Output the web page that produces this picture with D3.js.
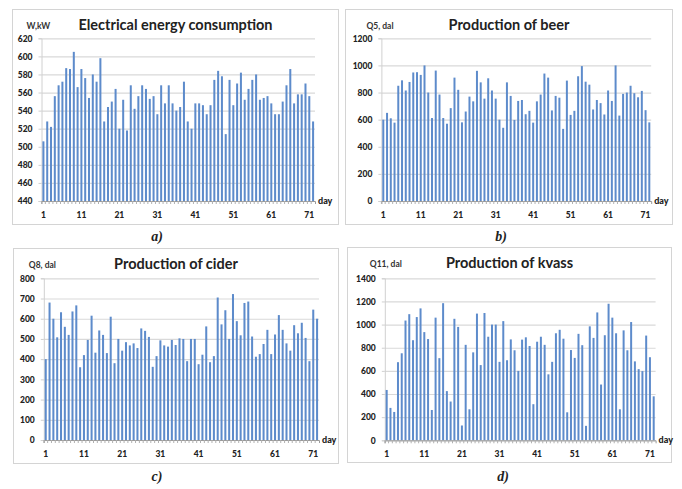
<!DOCTYPE html>
<html>
<head>
<meta charset="utf-8">
<script src="https://d3js.org/d3.v7.min.js"></script>
<style>
  body { margin: 0; background: #fff; }
  text { font-family: Lato, "Open Sans", sans-serif; fill: #222; }
  .tick-lbl { font-size: 8.5px; font-weight: 900; }
  .title { font-size: 14.5px; font-weight: bold; }
  .ytitle { font-size: 8.5px; font-weight: bold; fill: #333; }
  .caption { font-family: "Liberation Serif", "DejaVu Serif", serif; font-style: italic; font-weight: bold; font-size: 14px; }
</style>
</head>
<body>
<svg width="682" height="489"></svg>
<script>
// days 1..72
const days = d3.range(1, 73);
const xTickDays = [1, 11, 21, 31, 41, 51, 61, 71];

// W, kW
const energy = [506, 528, 522, 556, 568, 572, 587, 586, 605, 566,
  586, 576, 554, 580, 572, 598, 528, 544, 550, 564,
  520, 552, 518, 568, 542, 556, 568, 564, 553, 556,
  536, 568, 548, 568, 548, 540, 544, 572, 528, 520,
  548, 548, 546, 536, 546, 574, 584, 578, 514, 574,
  546, 570, 582, 552, 564, 574, 580, 552, 554, 556,
  548, 536, 536, 550, 568, 586, 548, 558, 558, 570,
  556, 528];

// Q5, dal
const beer = [600, 650, 610, 578, 850, 890, 815, 878, 948, 950,
  930, 1000, 800, 612, 962, 785, 612, 570, 685, 910,
  820, 580, 660, 770, 735, 960, 875, 755, 905, 815,
  755, 600, 540, 875, 775, 598, 738, 745, 640, 665,
  578, 735, 785, 940, 910, 668, 775, 762, 532, 888,
  635, 665, 920, 995, 880, 858, 675, 745, 722, 638,
  815, 738, 1000, 630, 790, 800, 850, 795, 765, 812,
  670, 580];

// Q8, dal
const cider = [400, 680, 600, 508, 632, 560, 520, 636, 666, 360,
  420, 495, 615, 432, 542, 520, 430, 610, 380, 500,
  442, 484, 468, 478, 455, 552, 540, 510, 362, 415,
  493, 468, 462, 495, 470, 503, 500, 390, 500, 500,
  375, 422, 562, 385, 415, 705, 572, 642, 500, 722,
  588, 518, 678, 685, 512, 412, 425, 475, 545, 425,
  522, 618, 545, 478, 442, 568, 528, 580, 505, 390,
  645, 600];

// Q11, dal
const kvass = [435, 280, 245, 675, 752, 1035, 1090, 865, 1065, 1140,
  935, 875, 262, 1060, 710, 1185, 425, 335, 1050, 980,
  128, 825, 268, 760, 1095, 650, 1100, 895, 1000, 1000,
  678, 1030, 692, 872, 778, 600, 870, 890, 815, 312,
  852, 895, 825, 570, 678, 925, 955, 878, 242, 780,
  712, 920, 822, 125, 985, 885, 1105, 482, 908, 1180,
  1060, 925, 268, 950, 778, 1022, 682, 615, 598, 905,
  718, 380];

const energyTicks = [440, 460, 480, 500, 520, 540, 560, 580, 600, 620];
const beerTicks = [0, 200, 400, 600, 800, 1000, 1200];
const ciderTicks = [0, 100, 200, 300, 400, 500, 600, 700, 800];
const kvassTicks = [0, 200, 400, 600, 800, 1000, 1200, 1400];

const panels = [
  { values: energy, ticks: energyTicks, title: "Electrical energy consumption", ytitle: "W,kW", caption: "a)",
    box: [12.5, 9.5, 326, 215], plot: [41.5, 315, 38.3, 201], capPos: [157, 241] },
  { values: beer, ticks: beerTicks, title: "Production of beer", ytitle: "Q5, dal", caption: "b)",
    box: [345.5, 9.5, 327, 215], plot: [381.4, 651.2, 38.3, 201], capPos: [501, 241] },
  { values: cider, ticks: ciderTicks, title: "Production of cider", ytitle: "Q8, dal", caption: "c)",
    box: [13.5, 248.5, 325, 215], plot: [43.8, 319, 278.3, 440], capPos: [157, 481] },
  { values: kvass, ticks: kvassTicks, title: "Production of kvass", ytitle: "Q11, dal", caption: "d)",
    box: [347.5, 247.5, 324, 215], plot: [384.8, 655.6, 278.3, 440.3], capPos: [503, 481] }
];

const svg = d3.select("svg");
svg.append("rect").attr("width", 682).attr("height", 489).attr("fill", "#fff");

panels.forEach(p => {
  const [bx, by, bw, bh] = p.box;
  const [x0, x1, yTop, yBot] = p.plot;
  const g = svg.append("g");

  g.append("rect")
    .attr("x", bx).attr("y", by).attr("width", bw).attr("height", bh)
    .attr("fill", "#fff").attr("stroke", "#d4d4d4");

  const x = d3.scaleBand().domain(days).range([x0, x1]).paddingInner(0.47).paddingOuter(0.24);
  const y = d3.scaleLinear().domain(d3.extent(p.ticks)).range([yBot, yTop]);

  // gridlines
  g.append("g")
    .attr("transform", `translate(${x0},0)`)
    .call(d3.axisLeft(y).tickValues(p.ticks).tickSize(-(x1 - x0)).tickFormat(""))
    .call(a => a.select(".domain").remove())
    .call(a => a.selectAll("line").attr("stroke", "#d9d9d9").attr("stroke-width", 1.2));

  // y tick labels
  g.append("g")
    .attr("transform", `translate(${x0},0)`)
    .call(d3.axisLeft(y).tickValues(p.ticks).tickSize(3).tickPadding(6).tickFormat(d3.format("d")))
    .call(a => a.select(".domain").attr("stroke", "#d0d0d0"))
    .call(a => a.selectAll("line").attr("stroke", "#d0d0d0"))
    .call(a => a.selectAll("text").attr("class", "tick-lbl").attr("fill", "#222"));

  // bars
  g.append("g")
    .selectAll("rect")
    .data(p.values)
    .join("rect")
    .attr("x", (d, i) => x(days[i]))
    .attr("width", x.bandwidth())
    .attr("y", d => y(d))
    .attr("height", d => y(y.domain()[0]) - y(d))
    .attr("fill", "#5d8bcb");

  // x axis with a small tick for every day
  const xStep = x.step();
  g.append("g")
    .attr("transform", `translate(0,${yBot})`)
    .call(d3.axisBottom(x).tickValues(days).tickSize(3).tickFormat(""))
    .call(a => a.select(".domain").attr("stroke", "#9a9a9a"))
    .call(a => a.selectAll(".tick").attr("transform", d => `translate(${x(d) - (xStep - x.bandwidth()) / 2},0)`))
    .call(a => a.selectAll("line").attr("stroke", "#b0b0b0"));

  g.append("g")
    .attr("transform", `translate(0,${yBot})`)
    .call(d3.axisBottom(x).tickValues(xTickDays).tickSize(0).tickPadding(11))
    .call(a => a.select(".domain").remove())
    .call(a => a.selectAll("text").attr("class", "tick-lbl").attr("fill", "#222"));

  g.append("text")
    .attr("class", "tick-lbl")
    .attr("x", x1 + 3).attr("y", yBot + 2.5)
    .style("font-size", "9px")
    .text("day");

  g.append("text")
    .attr("class", "title")
    .attr("x", bx + bw / 2).attr("y", by + 20.5)
    .attr("text-anchor", "middle")
    .text(p.title);

  g.append("text")
    .attr("class", "ytitle")
    .attr("x", x0 - 15).attr("y", by + 19)
    .text(p.ytitle);

  svg.append("text")
    .attr("class", "caption")
    .attr("x", p.capPos[0]).attr("y", p.capPos[1])
    .attr("text-anchor", "middle")
    .text(p.caption);
});
</script>
</body>
</html>
